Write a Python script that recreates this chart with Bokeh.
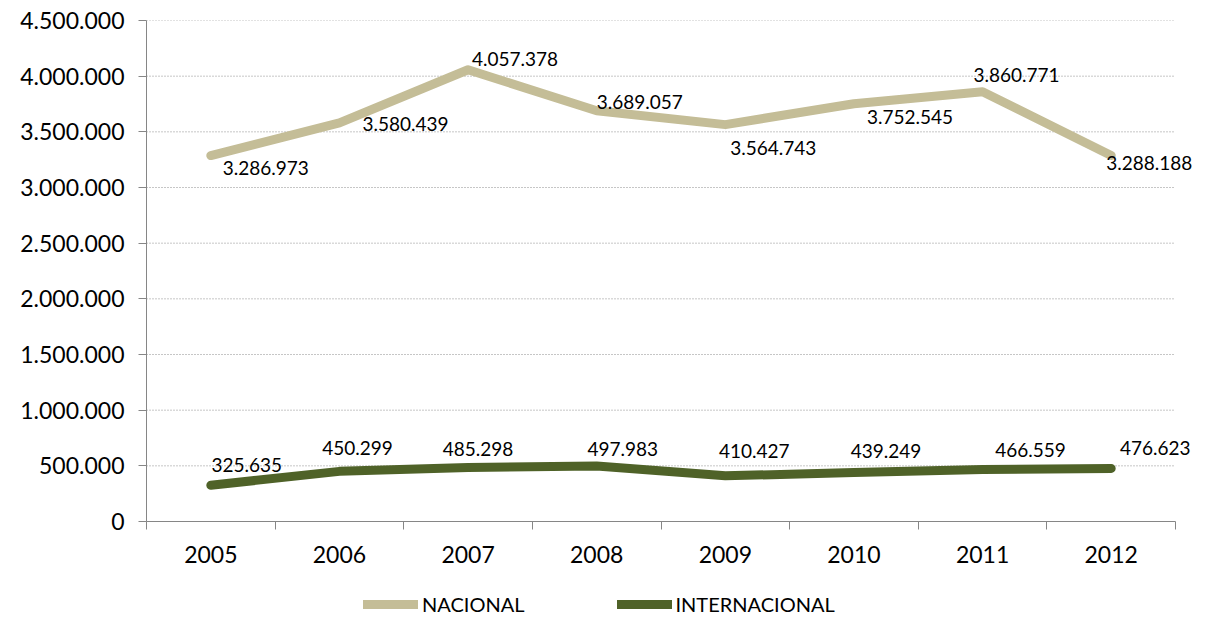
from bokeh.plotting import figure
from bokeh.layouts import column
from bokeh.models import (ColumnDataSource, LabelSet, Legend, LegendItem, FixedTicker,
                          CustomJSTickFormatter, Range1d)
from bokeh.core.properties import value
from bokeh.embed import file_html
from bokeh.resources import INLINE

years = ["2005", "2006", "2007", "2008", "2009", "2010", "2011", "2012"]
nacional = [3286973, 3580439, 4057378, 3689057, 3564743, 3752545, 3860771, 3288188]
internacional = [325635, 450299, 485298, 497983, 410427, 439249, 466559, 476623]
y_ticks = [0, 500000, 1000000, 1500000, 2000000, 2500000, 3000000, 3500000, 4000000, 4500000]
series_names = ["NACIONAL", "INTERNACIONAL"]

# label offsets (screen px, dy positive = up)
nac_dx = [55, 66, 47, 43, 48, 56, 34, 38]
nac_dy = [-12, -1, 11, 9, -23, -13, 17, -8]
int_dx = [36, 18, 10, 26, 29, 32, 48, 44]
int_dy = [20, 23, 18, 17, 25, 22, 20, 20]

C_NAC = "#C4BD97"
C_INT = "#4F6228"
FONT = "Lato"

W = 1194
MAIN_H, LEG_H = 576, 40
LEFT, TOP, FRAME_W, FRAME_H = 146, 20, 1029, 501

def fmt(v):
    return f"{v:,}".replace(",", ".")

n = len(years)
xs = [i + 0.5 for i in range(n)]

src_nac = ColumnDataSource(dict(x=xs, y=nacional, lbl=[fmt(v) for v in nacional], dx=nac_dx, dy=nac_dy))
src_int = ColumnDataSource(dict(x=xs, y=internacional, lbl=[fmt(v) for v in internacional], dx=int_dx, dy=int_dy))

# frame extends to the right edge so that data labels are not clipped; the axis stops at n
x_end = n * (W - LEFT) / FRAME_W
p = figure(width=W, height=MAIN_H, output_backend="svg", toolbar_location=None,
           x_range=Range1d(0, x_end), y_range=Range1d(0, 4500000),
           min_border_left=LEFT, min_border_right=0, min_border_top=TOP,
           min_border_bottom=MAIN_H - TOP - FRAME_H)
p.outline_line_color = None
p.xgrid.visible = False
p.ygrid.visible = False

# dotted horizontal gridlines, limited to the category span
grid_y = y_ticks[1:]
p.segment(x0=[0] * len(grid_y), x1=[n] * len(grid_y), y0=grid_y, y1=grid_y,
          line_color="#8c8c8c", line_dash="1 2", line_width=1)

# y axis
p.yaxis.ticker = FixedTicker(ticks=y_ticks, minor_ticks=[])
p.yaxis.formatter = CustomJSTickFormatter(code="return Math.round(tick).toString().replace(/\\B(?=(\\d{3})+(?!\\d))/g, '.');")
p.yaxis.major_tick_out = 8
p.yaxis.major_tick_in = 0
p.yaxis.major_label_standoff = 14
p.yaxis.axis_line_color = "#868686"
p.yaxis.major_tick_line_color = "#868686"
p.yaxis.major_label_text_font = FONT
p.yaxis.major_label_text_font_size = "23px"
p.yaxis.major_label_text_color = "#000000"

# x axis
p.xaxis.bounds = (0, n)
p.xaxis.ticker = FixedTicker(ticks=xs, minor_ticks=list(range(n + 1)))
p.xaxis.major_label_overrides = {x: y for x, y in zip(xs, years)}
p.xaxis.major_tick_out = 0
p.xaxis.major_tick_in = 0
p.xaxis.minor_tick_out = 8
p.xaxis.minor_tick_in = 0
p.xaxis.minor_tick_line_color = "#868686"
p.xaxis.axis_line_color = "#868686"
p.xaxis.major_label_standoff = 16
p.xaxis.major_label_text_font = FONT
p.xaxis.major_label_text_font_size = "23px"
p.xaxis.major_label_text_color = "#000000"

line_kw = dict(line_width=9, line_cap="round", line_join="round")
p.line("x", "y", source=src_nac, line_color=C_NAC, **line_kw)
p.line("x", "y", source=src_int, line_color=C_INT, **line_kw)

for src in (src_nac, src_int):
    p.add_layout(LabelSet(x="x", y="y", text="lbl", source=src, x_offset="dx", y_offset="dy",
                          text_align="center", text_baseline="middle",
                          text_font=value(FONT), text_font_size="19px", text_color="#000000"))

# legend strip below the chart (its frame is aligned with the chart's frame by the column)
leg = figure(width=W, height=LEG_H, output_backend="svg", toolbar_location=None,
             x_axis_location=None, y_axis_location=None,
             x_range=Range1d(0, 1), y_range=Range1d(0, 1),
             min_border_left=LEFT, min_border_right=0, min_border_top=0, min_border_bottom=0)
leg.outline_line_color = None
leg.xgrid.visible = False
leg.ygrid.visible = False
nan = float("nan")
lr_nac = leg.line(x=[nan], y=[nan], line_color=C_NAC, **line_kw)
lr_int = leg.line(x=[nan], y=[nan], line_color=C_INT, **line_kw)
legend = Legend(items=[LegendItem(label=series_names[0], renderers=[lr_nac]),
                       LegendItem(label=series_names[1], renderers=[lr_int])],
                orientation="horizontal", location=(217, 0),
                glyph_width=55, glyph_height=20, label_height=20, label_standoff=4,
                spacing=92, padding=0, margin=0,
                label_text_font=FONT, label_text_font_size="20px", label_text_color="#000000",
                border_line_alpha=0, background_fill_alpha=0)
leg.add_layout(legend)

open("out.html", "w").write(file_html(column(p, leg, spacing=0), INLINE))
